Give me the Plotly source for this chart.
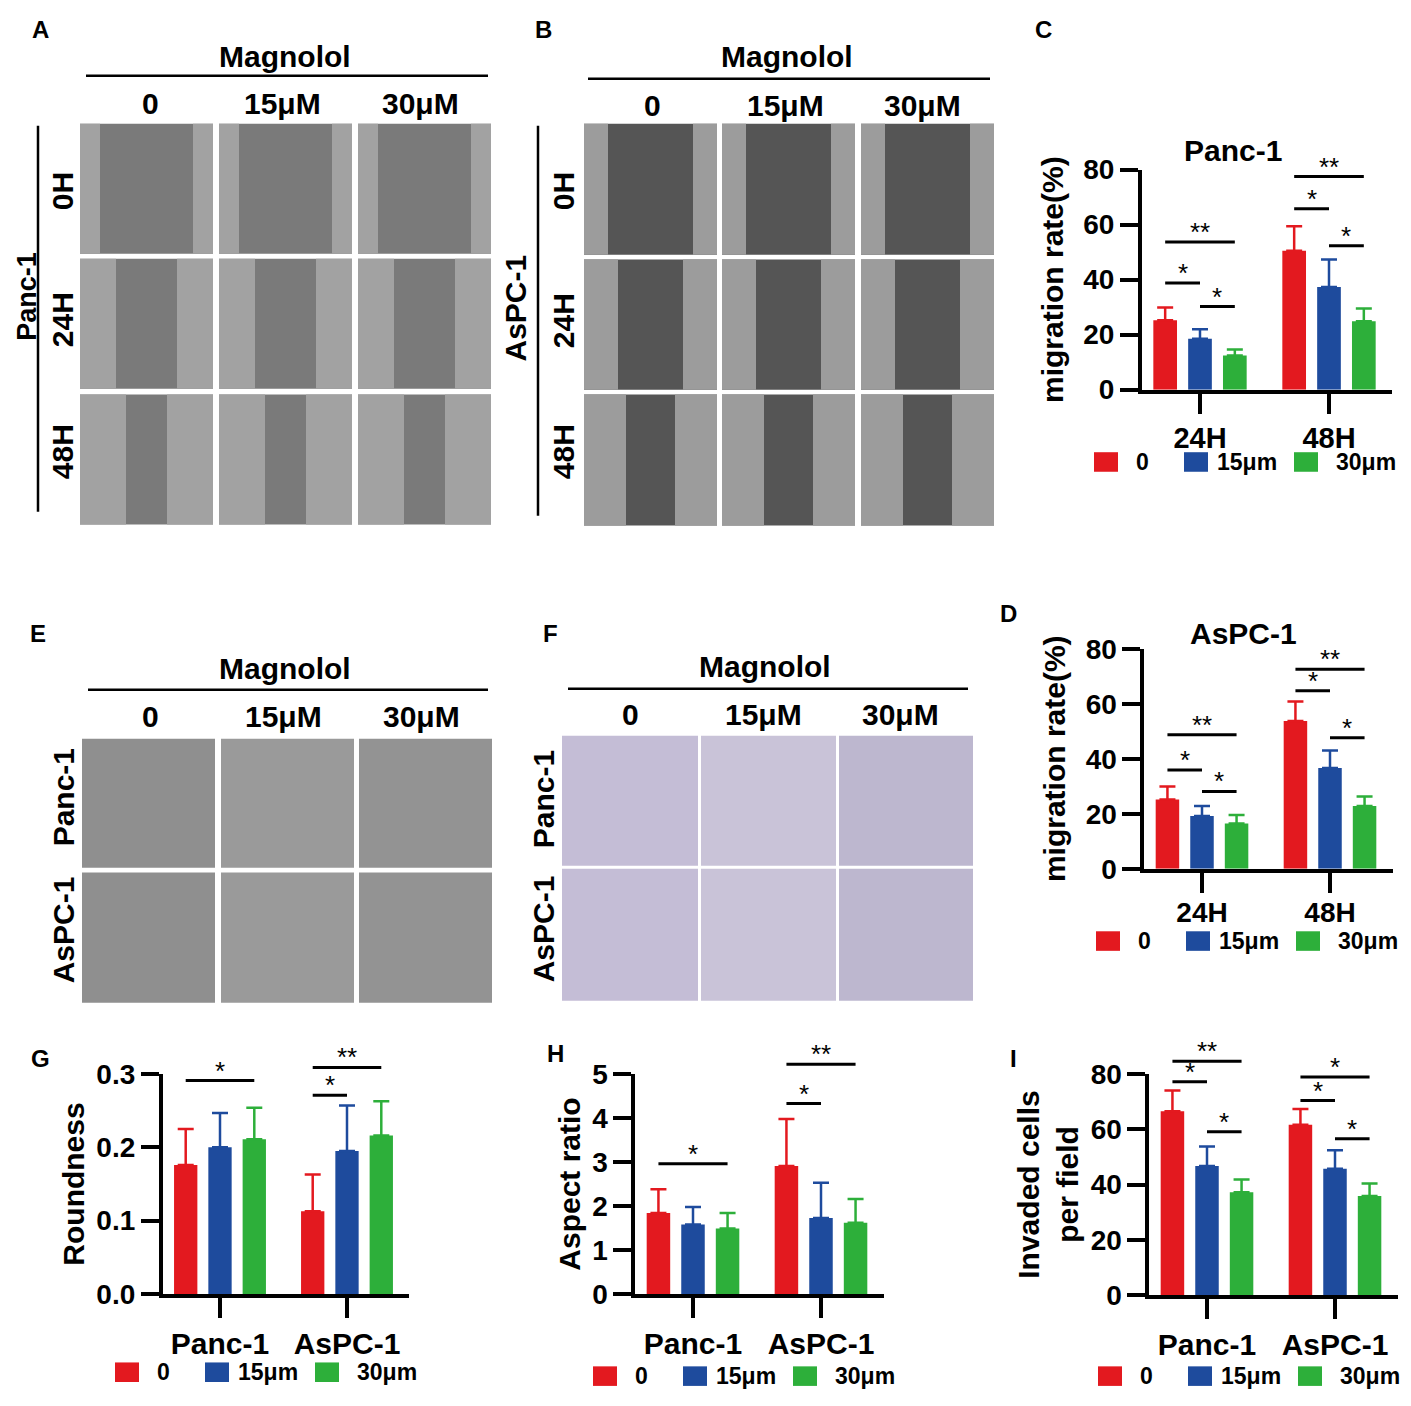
import plotly.graph_objects as go

# page is drawn with an 8px body margin, so the figure is 16px smaller than the window
W, H = 1395, 1390
OFF = 8
FONT = 'Liberation Sans, Arial, Helvetica, sans-serif'

# series shared by every bar chart
doses = ['0', '15μm', '30μm']
bar_colors = ['#E3191F', '#1E4B9D', '#2DAF3A']

# image panel labels
dose_labels = ['0', '15μM', '30μM']
time_labels = ['0H', '24H', '48H']
cell_lines = ['Panc-1', 'AsPC-1']

# C - Panc-1 wound healing
time_cats = ['24H', '48H']
c_ctrl = [25.2, 50.5]
c_15 = [18.5, 37.3]
c_30 = [12.4, 24.9]
c_ctrl_sd = [4.7, 8.9]
c_15_sd = [3.5, 10.0]
c_30_sd = [2.2, 4.6]
c_sig = [(0, 0, 1, 38.8, '*'), (0, 0, 2, 53.7, '**'), (0, 1, 2, 30.2, '*'),
         (1, 0, 2, 77.5, '**'), (1, 0, 1, 65.8, '*'), (1, 1, 2, 52.3, '*')]

# D - AsPC-1 wound healing
d_ctrl = [25.2, 53.7]
d_15 = [19.2, 36.6]
d_30 = [16.4, 22.8]
d_ctrl_sd = [4.7, 7.1]
d_15_sd = [3.6, 6.4]
d_30_sd = [3.1, 3.5]
d_sig = [(0, 0, 1, 35.9, '*'), (0, 0, 2, 48.7, '**'), (0, 1, 2, 28.1, '*'),
         (1, 0, 2, 72.5, '**'), (1, 0, 1, 64.7, '*'), (1, 1, 2, 47.6, '*')]

# G - roundness
g_ctrl = [0.176, 0.113]
g_15 = [0.200, 0.195]
g_30 = [0.211, 0.216]
g_ctrl_sd = [0.049, 0.050]
g_15_sd = [0.047, 0.062]
g_30_sd = [0.043, 0.047]
g_sig = [(0, 0, 2, 0.291, '*'), (1, 0, 1, 0.271, '*'), (1, 0, 2, 0.309, '**')]

# H - aspect ratio
h_ctrl = [1.84, 2.91]
h_15 = [1.58, 1.73]
h_30 = [1.49, 1.62]
h_ctrl_sd = [0.54, 1.07]
h_15_sd = [0.40, 0.80]
h_30_sd = [0.35, 0.54]
h_sig = [(0, 0, 2, 2.96, '*'), (1, 0, 1, 4.33, '*'), (1, 0, 2, 5.22, '**')]

# I - invaded cells
i_ctrl = [66.5, 61.6]
i_15 = [46.7, 45.7]
i_30 = [37.2, 35.8]
i_ctrl_sd = [7.5, 5.7]
i_15_sd = [7.1, 6.7]
i_30_sd = [4.6, 4.6]
i_sig = [(0, 0, 1, 77.2, '*'), (0, 0, 2, 84.6, '**'), (0, 1, 2, 59.1, '*'),
         (1, 0, 2, 78.9, '*'), (1, 0, 1, 70.4, '*'), (1, 1, 2, 56.6, '*')]

BARGAP, GROUPGAP = 0.19, 0.32
R0, R1 = -0.45, 1.49
slot = (1 - BARGAP) / 3

charts = [
    dict(cats=time_cats, vals=[c_ctrl, c_15, c_30], sds=[c_ctrl_sd, c_15_sd, c_30_sd], sig=c_sig,
         ymax=80, dtick=20, fmt='d', ytitle='migration rate(%)', catsize=29, catpad=0, standoff=12,
         c0=1200, step=129, top=158, bottom=383, leg=(1094, 457), title=('Panc-1', 1233, 138)),
    dict(cats=time_cats, vals=[d_ctrl, d_15, d_30], sds=[d_ctrl_sd, d_15_sd, d_30_sd], sig=d_sig,
         ymax=80, dtick=20, fmt='d', ytitle='migration rate(%)', catsize=28, catpad=-4, standoff=12,
         c0=1202, step=128, top=648, bottom=873, leg=(1096, 947), title=('AsPC-1', 1243, 632)),
    dict(cats=cell_lines, vals=[g_ctrl, g_15, g_30], sds=[g_ctrl_sd, g_15_sd, g_30_sd], sig=g_sig,
         ymax=0.3, dtick=0.1, fmt='.1f', ytitle='Roundness', catsize=30, catpad=0, standoff=4,
         c0=220, step=127, top=1083, bottom=1308, leg=(115, 1388), title=None),
    dict(cats=cell_lines, vals=[h_ctrl, h_15, h_30], sds=[h_ctrl_sd, h_15_sd, h_30_sd], sig=h_sig,
         ymax=5, dtick=1, fmt='d', ytitle='Aspect ratio', catsize=30, catpad=0, standoff=4,
         c0=693, step=128, top=1083, bottom=1308, leg=(593, 1392), title=None),
    dict(cats=cell_lines, vals=[i_ctrl, i_15, i_30], sds=[i_ctrl_sd, i_15_sd, i_30_sd], sig=i_sig,
         ymax=80, dtick=20, fmt='d', ytitle='Invaded cells<br>per field', catsize=30, catpad=0, standoff=4,
         c0=1207, step=128, top=1083, bottom=1309, leg=(1098, 1392), title=None),
]


def px(x):
    return (x - OFF) / W


def py(y):
    return 1 - (y - OFF) / H


fig = go.Figure()
shapes = []
annos = []


def text(t, x, y, size=30, angle=0, xanchor='center'):
    annos.append(dict(text=t, x=px(x), y=py(y), xref='paper', yref='paper', showarrow=False,
                      textangle=angle, xanchor=xanchor, yanchor='middle', font=dict(size=size)))


def hline(x0, x1, y, width=2.5):
    shapes.append(dict(type='line', xref='paper', yref='paper', x0=px(x0), x1=px(x1), y0=py(y), y1=py(y),
                       line=dict(color='black', width=width)))


def vline(x, y0, y1, width=2.5):
    shapes.append(dict(type='line', xref='paper', yref='paper', x0=px(x), x1=px(x), y0=py(y0), y1=py(y1),
                       line=dict(color='black', width=width)))


def rect(x0, x1, y0, y1, color):
    shapes.append(dict(type='rect', xref='paper', yref='paper', x0=px(x0), x1=px(x1), y0=py(y1), y1=py(y0),
                       fillcolor=color, line=dict(width=0), layer='below'))


# ---- bar charts
for k, ch in enumerate(charts, start=1):
    xa = 'x' if k == 1 else f'x{k}'
    ya = 'y' if k == 1 else f'y{k}'
    for i in range(3):
        fig.add_trace(go.Bar(
            x=ch['cats'], y=ch['vals'][i], name=doses[i], xaxis=xa, yaxis=ya,
            marker=dict(color=bar_colors[i], line=dict(width=0)),
            error_y=dict(type='data', array=ch['sds'][i], arrayminus=[0] * len(ch['cats']),
                         symmetric=False, color=bar_colors[i], thickness=2.5, width=8),
        ))
    left = ch['c0'] + R0 * ch['step']
    right = ch['c0'] + R1 * ch['step']
    fig.layout['xaxis' if k == 1 else f'xaxis{k}'] = dict(
        domain=[px(left), px(right)], range=[R0, R1], anchor=ya, type='category',
        showline=True, linewidth=4, linecolor='black', ticks='outside', ticklen=20, tickwidth=4,
        tickcolor='black', tickfont=dict(size=ch['catsize']), ticklabelstandoff=ch['catpad'],
        showgrid=False, zeroline=False)
    fig.layout['yaxis' if k == 1 else f'yaxis{k}'] = dict(
        domain=[py(ch['bottom']), py(ch['top'])], range=[0, ch['ymax']], anchor=xa,
        showline=True, linewidth=4, linecolor='black', ticks='outside', ticklen=18, tickwidth=4,
        tickcolor='black', tick0=0, dtick=ch['dtick'], tickformat=ch['fmt'], tickfont=dict(size=28),
        showgrid=False, zeroline=False,
        title=dict(text=ch['ytitle'], font=dict(size=30), standoff=ch['standoff']))

    span = R1 - R0
    for g, a, b, yv, lab in ch['sig']:
        fa = (g + (a - 1) * slot - R0) / span
        fb = (g + (b - 1) * slot - R0) / span
        fy = yv / ch['ymax']
        shapes.append(dict(type='line', xref=f'{xa} domain', yref=f'{ya} domain', x0=fa, x1=fb, y0=fy, y1=fy,
                           line=dict(color='black', width=3)))
        annos.append(dict(text=lab, xref=f'{xa} domain', yref=f'{ya} domain', x=(fa + fb) / 2, y=fy,
                          showarrow=False, xanchor='center', yanchor='middle', yshift=10,
                          font=dict(size=26, weight='normal')))

    lx, ly = ch['leg']
    for i, (dsq, dlab) in enumerate([(0, 48), (90, 121), (200, 240)]):
        rect(lx + dsq, lx + dsq + 24, ly - 10, ly + 10, bar_colors[i])
        text(doses[i], lx + dlab, ly, size=23, xanchor='center' if i == 0 else 'left')

    if ch['title']:
        t, tx, ty = ch['title']
        text(t, tx, ty, size=30)

# ---- wound healing image panels (A, B)
wound = [
    dict(cols=[(80, 213), (219, 352), (358, 491)], rows=[(111, 244), (249, 382), (388, 521)],
         gap='#7a7a7a', cells='#a2a2a2', bands=[20, 36, 46], cell=cell_lines[0],
         head=(285, 42, 62, 86, 488, 90, [150, 282, 420]), side=(27, 38, 62, 288, 113, 508),
         rowy=[180, 312, 447], letter=('A', 40, 15)),
    dict(cols=[(584, 717), (722, 855), (861, 994)], rows=[(111, 245), (250, 383), (388, 522)],
         gap='#555555', cells='#9c9c9c', bands=[24, 34, 42], cell=cell_lines[1],
         head=(787, 42, 65, 588, 990, 92, [652, 785, 922]), side=(515, 538, 563, 300, 113, 512),
         rowy=[180, 313, 447], letter=('B', 543, 15)),
]
for n, p in enumerate(wound):
    for r, (y0, y1) in enumerate(p['rows']):
        for (x0, x1) in p['cols']:
            rect(x0, x1, y0, y1, p['gap'])
            rect(x0, x0 + p['bands'][r], y0, y1, p['cells'])
            rect(x1 - p['bands'][r], x1, y0, y1, p['cells'])
        text(time_labels[r], p['side'][2], p['rowy'][r], angle=-90)
    hx, hy, ly, lx0, lx1, dy, dxs = p['head']
    text('Magnolol', hx, hy)
    hline(lx0, lx1, ly)
    for d, dx in zip(dose_labels, dxs):
        text(d, dx, dy)
    sx, vx, _, sy, vy0, vy1 = p['side']
    text(p['cell'], sx, sy, size=27 if n == 0 else 30, angle=-90)
    vline(vx, vy0, vy1)
    text(p['letter'][0], p['letter'][1], p['letter'][2], size=24)

# ---- morphology (E) and transwell (F) image panels
grids = [
    dict(cols=[(82, 215), (221, 354), (359, 492)], rows=[(740, 872), (877, 1010)],
         fill=['#8f8f8f', '#9a9a9a', '#939393'], head=(285, 668, 690, 88, 488, 717, [150, 283, 421]),
         sidex=63, rowy=[800, 935], letter=('E', 38, 632)),
    dict(cols=[(562, 698), (701, 836), (839, 973)], rows=[(737, 870), (873, 1008)],
         fill=['#c4bdd6', '#c9c3d8', '#bdb7cf'], head=(765, 666, 689, 568, 968, 715, [630, 763, 900]),
         sidex=543, rowy=[802, 935], letter=('F', 550, 632)),
]
for p in grids:
    for r, (y0, y1) in enumerate(p['rows']):
        for c, (x0, x1) in enumerate(p['cols']):
            rect(x0, x1, y0, y1, p['fill'][c])
        text(cell_lines[r], p['sidex'], p['rowy'][r], angle=-90)
    hx, hy, ly, lx0, lx1, dy, dxs = p['head']
    text('Magnolol', hx, hy)
    hline(lx0, lx1, ly)
    for d, dx in zip(dose_labels, dxs):
        text(d, dx, dy)
    text(p['letter'][0], p['letter'][1], p['letter'][2], size=24)

# remaining panel letters
for lab, x, y in [('C', 1043, 15), ('D', 1008, 612), ('G', 40, 1067), ('H', 555, 1062), ('I', 1013, 1067)]:
    text(lab, x, y, size=24)

fig.update_layout(
    width=W, height=H, margin=dict(l=0, r=0, t=0, b=0),
    paper_bgcolor='white', plot_bgcolor='white', showlegend=False,
    barmode='group', bargap=BARGAP, bargroupgap=GROUPGAP,
    font=dict(family=FONT, color='black', weight='bold'),
    shapes=shapes, annotations=annos,
)

fig.write_html("out.html")
